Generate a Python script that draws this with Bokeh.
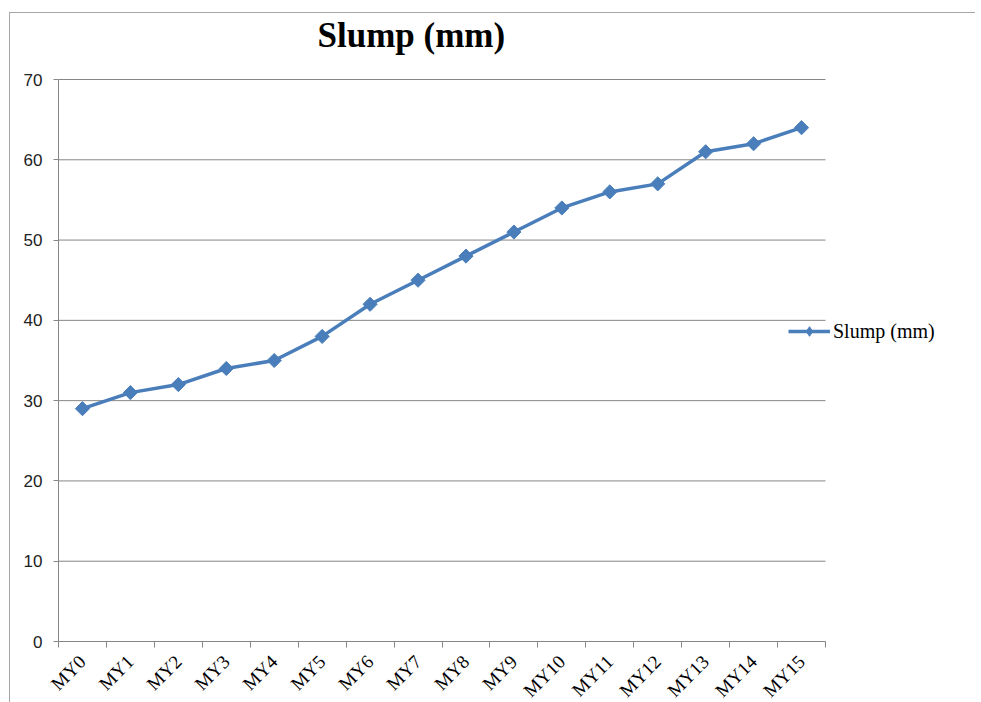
import math
from bokeh.plotting import figure
from bokeh.models import FixedTicker, Legend, LegendItem, ColumnDataSource, Range1d, Label
from bokeh.embed import file_html
from bokeh.resources import INLINE

categories = ["MY0", "MY1", "MY2", "MY3", "MY4", "MY5", "MY6", "MY7",
              "MY8", "MY9", "MY10", "MY11", "MY12", "MY13", "MY14", "MY15"]
slump = [29, 31, 32, 34, 35, 38, 42, 45, 48, 51, 54, 56, 57, 61, 62, 64]
y_ticks = [0, 10, 20, 30, 40, 50, 60, 70]
series_name = "Slump (mm)"
title_text = "Slump (mm)"

n = len(categories)
xs = [i + 0.5 for i in range(n)]
src = ColumnDataSource(dict(x=xs, y=slump))

SERIF = "Liberation Serif"
SANS = "Liberation Sans"
BLUE = "#4a7ebb"
GRAY = "#868686"

# the frame also holds the title (above) and the legend (right) areas
AXIS_W, FRAME_W = 767, 907      # category axis width / frame width (px)
AXIS_H, FRAME_H = 562, 628      # value axis height / frame height (px)
y_min, y_max = y_ticks[0], y_ticks[-1]
x_end = n * FRAME_W / AXIS_W
y_end = y_min + (y_max - y_min) * FRAME_H / AXIS_H

p = figure(
    output_backend="svg", toolbar_location=None,
    frame_width=FRAME_W, frame_height=FRAME_H,
    min_border_left=48, min_border_right=10, min_border_top=0, min_border_bottom=50,
    x_range=Range1d(0, x_end), y_range=Range1d(y_min, y_end),
)
p.title.visible = False
# range far away from the data: renderers on it draw nothing inside the frame
p.extra_y_ranges = {"legend_only": Range1d(1000, 1001)}
p.styles = {"border-top": "1px solid #a6a6a6", "border-left": "1px solid #a6a6a6",
            "margin-top": "12px", "margin-left": "9px"}

p.outline_line_color = None
p.xgrid.grid_line_color = None
p.ygrid.grid_line_color = None

# horizontal gridlines spanning only the category axis
p.segment(x0=[0] * len(y_ticks), x1=[n] * len(y_ticks), y0=y_ticks, y1=y_ticks,
          line_color=GRAY, line_width=1)

# title
p.add_layout(Label(x=259, y=606, x_units="screen", y_units="screen", text=title_text,
                   text_font=SERIF, text_font_size="35px", text_font_style="bold",
                   text_color="black", text_align="left", text_baseline="alphabetic"))

# x axis
xa = p.xaxis[0]
xa.bounds = (0, n)
xa.ticker = FixedTicker(ticks=xs, minor_ticks=list(range(n + 1)))
xa.major_label_overrides = {x: c for x, c in zip(xs, categories)}
xa.major_tick_line_color = None
xa.minor_tick_line_color = GRAY
xa.minor_tick_out = 6
xa.minor_tick_in = 0
xa.axis_line_color = GRAY
xa.major_label_orientation = math.pi / 4
xa.major_label_text_font = SERIF
xa.major_label_text_font_size = "19px"
xa.major_label_text_color = "black"
xa.major_label_standoff = 11

# y axis
ya = p.yaxis[0]
ya.bounds = (y_min, y_max)
ya.ticker = FixedTicker(ticks=y_ticks, minor_ticks=[])
ya.axis_line_color = GRAY
ya.major_tick_line_color = GRAY
ya.major_tick_out = 5
ya.major_tick_in = 0
ya.major_label_text_font = SANS
ya.major_label_text_font_size = "17px"
ya.major_label_text_color = "#222222"
ya.major_label_standoff = 11

line = p.line("x", "y", source=src, line_color=BLUE, line_width=3.5)
pts = p.scatter("x", "y", source=src, marker="square", angle=math.pi / 4, size=10,
                fill_color=BLUE, line_color=BLUE)
# supplies only the diamond shown in the legend (its points fall outside the frame)
legend_marker = p.scatter("x", "y", source=src, y_range_name="legend_only",
                          marker="diamond", size=10, fill_color=BLUE, line_color=BLUE)

legend = Legend(items=[LegendItem(label=series_name, renderers=[line, legend_marker])],
                location=(730, 298))
legend.glyph_width = 42
legend.glyph_height = 24
legend.padding = 0
legend.margin = 0
legend.spacing = 0
legend.label_standoff = 3
legend.border_line_color = None
legend.background_fill_alpha = 0
legend.label_text_font = SERIF
legend.label_text_font_size = "20px"
legend.label_text_color = "black"
p.add_layout(legend)

open("out.html", "w").write(file_html(p, INLINE))
